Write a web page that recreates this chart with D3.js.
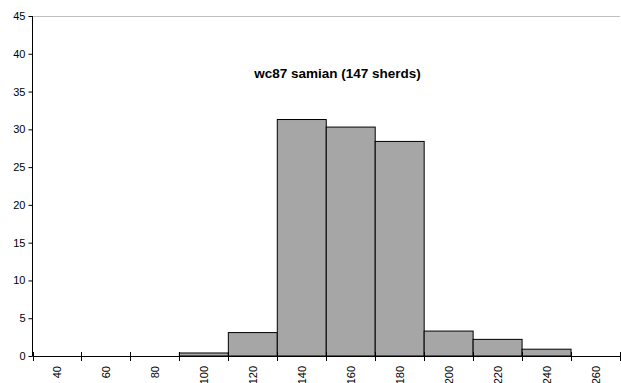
<!DOCTYPE html>
<html><head><meta charset="utf-8">
<script src="https://cdn.jsdelivr.net/npm/d3@7"></script>
<style>body{margin:0;background:#fff}svg{display:block}text{font-family:"Liberation Sans",Arial,sans-serif}</style>
</head><body><svg id="c" width="621" height="383"></svg>
<script>
const categories = ["40","60","80","100","120","140","160","180","200","220","240","260"];
const values = [0,0,0,0.4,3.1,31.3,30.3,28.4,3.3,2.2,0.9,0];
const yTicks = [0,5,10,15,20,25,30,35,40,45];
const title = "wc87 samian (147 sherds)";

const svg = d3.select("#c");
const m = {l:32.5, r:620, t:16, b:356};
const x = d3.scaleBand().domain(categories).range([m.l, m.r]).padding(0);
const y = d3.scaleLinear().domain([0,45]).range([m.b, m.t]);

svg.append("line").attr("x1",m.l).attr("x2",m.r).attr("y1",y(45)+0.5).attr("y2",y(45)+0.5)
  .attr("stroke","#c0c0c0").attr("stroke-width",1);

svg.selectAll("rect.bar").data(categories.map((c,i)=>({c,v:values[i]})).filter(d=>d.v>0))
  .enter().append("rect").attr("class","bar")
  .attr("x",d=>x(d.c)).attr("width",x.bandwidth())
  .attr("y",d=>y(d.v)).attr("height",d=>y(0)-y(d.v))
  .attr("fill","#a6a6a6").attr("stroke","#000").attr("stroke-width",1);

// y axis
const ya = svg.append("g").attr("transform",`translate(${m.l},0)`)
  .call(d3.axisLeft(y).tickValues(yTicks).tickSize(4).tickPadding(3).tickFormat(d3.format("d")));
ya.selectAll("path,line").attr("stroke","#000");
ya.select(".domain").attr("d",`M0,${m.t}V${m.b}`);
ya.selectAll("text").attr("font-size","11px").attr("fill","#000").style("font-family","Liberation Sans, Arial");

// x axis
const xg = svg.append("g");
xg.append("line").attr("x1",m.l).attr("x2",m.r).attr("y1",m.b+0.5).attr("y2",m.b+0.5).attr("stroke","#000");
const bounds = categories.map(c=>x(c)).concat([x(categories[categories.length-1])+x.bandwidth()]);
xg.selectAll("line.tk").data(bounds).enter().append("line").attr("class","tk")
  .attr("x1",d=>Math.round(d)+0.5).attr("x2",d=>Math.round(d)+0.5)
  .attr("y1",m.b-4).attr("y2",m.b+5).attr("stroke","#000");
xg.selectAll("text").data(categories).enter().append("text")
  .attr("transform",d=>`translate(${x(d)+x.bandwidth()/2+4},${m.b+10}) rotate(-90)`)
  .attr("text-anchor","end").attr("font-size","11px").attr("fill","#000").text(d=>d);

svg.append("text").attr("x",337.5).attr("y",78).attr("text-anchor","middle")
  .attr("font-size","13.5px").attr("font-weight","bold").attr("fill","#000").text(title);
</script></body></html>
